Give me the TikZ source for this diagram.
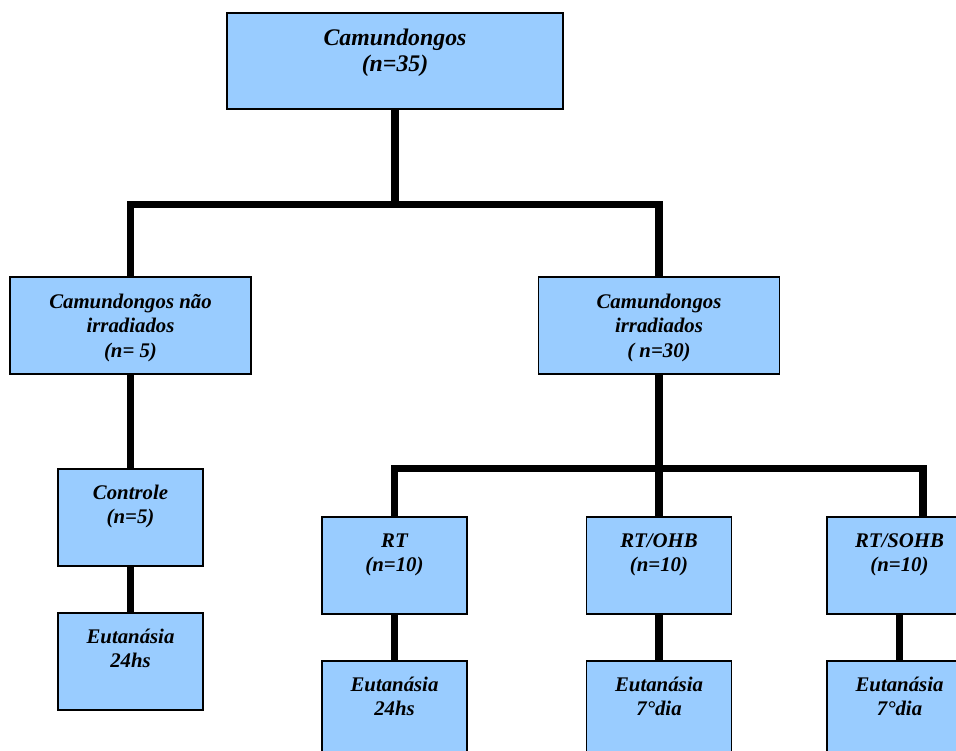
\documentclass[tikz,border=0pt]{standalone}
\usepackage{fontspec}
\setmainfont{Liberation Serif}
\definecolor{boxblue}{RGB}{153,204,255}

\begin{document}
\begin{tikzpicture}[x=1pt,y=-1pt,
  box/.style n args={3}{draw,fill=boxblue,line width=1.6pt,inner sep=0pt,anchor=north,
    font=\fontsize{20.8}{24.5}\selectfont\bfseries\itshape,
    execute at begin node={\begin{minipage}[c][#1][t]{#2}\centering\rule{0pt}{#3}},
    execute at end node={\end{minipage}}},
  small/.style={box={97pt}{145pt}{30.5pt}},
  wide/.style={box={97pt}{241pt}{31.5pt}},
  link/.style={line width=7.5pt,line join=miter}]
\useasboundingbox (0,0) rectangle (956,751);
\clip (0,0) rectangle (956,751);

% top level
\node[box={96pt}{336pt}{33pt},font=\fontsize{23.8}{26}\selectfont\bfseries\itshape]
  (mice) at (395,12) {Camundongos\\(n=35)};

% groups
\node[wide] (nonirr) at (130.5,276) {Camundongos não\\irradiados\\(n= 5)};
\node[wide] (irr) at (659,276) {Camundongos\\irradiados\\( n=30)};

\node[small] (ctrl) at (130.5,468) {Controle\\(n=5)};
\node[small] (eutctrl) at (130.5,612) {Eutanásia\\24hs};

\node[small] (rt) at (394.5,516) {RT\\(n=10)};
\node[small] (ohb) at (659,516) {RT/OHB\\(n=10)};
\node[small] (sohb) at (899.5,516) {RT/SOHB\\(n=10)};

\node[small] (eutrt) at (394.5,660) {Eutanásia\\24hs};
\node[small] (eutohb) at (659,660) {Eutanásia\\7°dia};
\node[small] (eutsohb) at (899.5,660) {Eutanásia\\7°dia};

% connectors
\coordinate (topsplit) at (395,204.5);
\coordinate (rightend) at (923,468.5);
\draw[link] (mice.south) -- (topsplit);
\draw[link] (nonirr.north) |- (topsplit) -| (irr.north);
\draw[link] (nonirr.south) -- (ctrl.north);
\draw[link] (ctrl.south) -- (eutctrl.north);
\draw[link] (irr.south) -- (ohb.north);
\draw[link] (rt.north) |- (rightend) -- (rightend |- sohb.north);
\draw[link] (rt.south) -- (eutrt.north);
\draw[link] (ohb.south) -- (eutohb.north);
\draw[link] (sohb.south) -- (eutsohb.north);
\end{tikzpicture}
\end{document}
